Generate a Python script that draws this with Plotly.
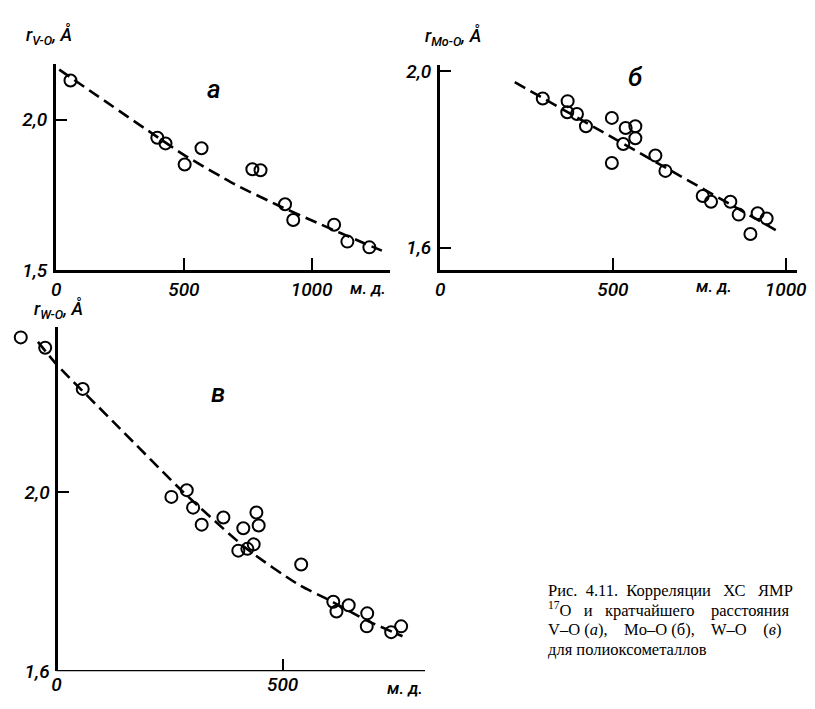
import plotly.graph_objects as go

# the page body adds an 8px margin on every side, so the figure is 16px
# smaller than the window; positions below are window pixels
OFF = 8
W, H = 815 - 2 * OFF, 709 - 2 * OFF

# ---------------- data ----------------
# panel а : V-O
a_shift = [56, 396, 428, 503, 569, 768, 800, 896, 928, 1088, 1140, 1226]
a_r = [2.130, 1.940, 1.921, 1.851, 1.905, 1.835, 1.832, 1.719, 1.667, 1.651, 1.595, 1.576]
a_fit_x = [12, 400, 500, 700, 870, 1020, 1210, 1275]
a_fit_y = [2.166, 1.940, 1.883, 1.785, 1.715, 1.658, 1.588, 1.565]

# panel б : Mo-O
b_shift = [297, 369, 368, 396, 422, 497, 497, 537, 565, 565, 530, 623, 652, 760, 784, 840, 864, 898, 919, 945]
b_r = [1.938, 1.932, 1.907, 1.903, 1.875, 1.894, 1.792, 1.871, 1.875, 1.848, 1.835, 1.809, 1.774,
       1.717, 1.704, 1.704, 1.675, 1.631, 1.678, 1.666]
b_fit_x = [216, 980]
b_fit_y = [1.975, 1.636]

# panel в : W-O
c_shift = [-79, -25, 58, 254, 288, 302, 321, 369, 413, 442, 447, 402, 422, 436, 541, 612, 619, 646,
           687, 686, 740, 762]
c_r = [2.345, 2.322, 2.230, 1.989, 2.004, 1.965, 1.927, 1.943, 1.919, 1.954, 1.925, 1.869, 1.873,
       1.883, 1.838, 1.755, 1.733, 1.747, 1.729, 1.700, 1.687, 1.700]
c_fit_x = [-41, 0, 140, 281, 422, 537, 610, 682, 765]
c_fit_y = [2.335, 2.285, 2.142, 1.999, 1.872, 1.792, 1.755, 1.715, 1.678]

a_xticks = [0, 500, 1000]
a_yticks = [1.5, 2.0]
b_xticks = [0, 500, 1000]
b_yticks = [1.6, 2.0]
c_xticks = [0, 500]
c_yticks = [1.6, 2.0]

caption_lines = [
    "Рис.  4.11.  Корреляции   ХС   ЯМР",
    "<sup>17</sup>O   и   кратчайшего    расстояния",
    "V–O (<i>а</i>),    Mo–O (б),    W–O    (<i>в</i>)",
    "для полиоксометаллов",
]

# ---------------- styling ----------------
TICKFONT = dict(family="Roboto, Liberation Sans, sans-serif",
                size=19, color="black", style="italic", weight=500)
LETTERFONT = dict(family="Roboto, Liberation Sans, sans-serif",
                  size=26, color="black", style="italic", weight=500)
CAPFONT = dict(family="Liberation Serif, Times New Roman, serif", size=16.5, color="black")


def px_x(p):
    return (p - OFF) / W


def px_y(p):
    return 1 - (p - OFF) / H


fig = go.Figure()

MARK = dict(symbol="circle-open", size=12, color="black", line=dict(width=2, color="black"))
DASH = dict(color="black", width=2.6, dash="12px,6px", shape="spline", smoothing=0.6)

for xs, ys, fx, fy, ax in [(a_shift, a_r, a_fit_x, a_fit_y, ""),
                           (b_shift, b_r, b_fit_x, b_fit_y, "2"),
                           (c_shift, c_r, c_fit_x, c_fit_y, "3")]:
    fig.add_trace(go.Scatter(x=fx, y=fy, mode="lines", line=DASH, xaxis="x" + ax, yaxis="y" + ax,
                             hoverinfo="skip", showlegend=False))
    fig.add_trace(go.Scatter(x=xs, y=ys, mode="markers", marker=MARK, xaxis="x" + ax, yaxis="y" + ax,
                             showlegend=False, cliponaxis=False))


def xaxis_style(dom, rng, ticks, showline=True):
    return dict(domain=dom, range=rng, tickvals=ticks, ticktext=[str(t) for t in ticks],
                ticks="inside", ticklen=12, tickwidth=2, tickcolor="black",
                showline=showline, linecolor="black", linewidth=2.5,
                showgrid=False, zeroline=False, tickfont=TICKFONT, ticklabelstandoff=0,
                ticklabeloverflow="allow")


def yaxis_style(dom, rng, ticks):
    return dict(domain=dom, range=rng, tickvals=ticks,
                ticktext=[f"{t:.1f}".replace(".", ",") for t in ticks],
                ticks="inside", ticklen=11, tickwidth=2, tickcolor="black",
                showline=True, linecolor="black", linewidth=3,
                showgrid=False, zeroline=False, tickfont=TICKFONT, ticklabelstandoff=2,
                ticklabeloverflow="allow")


# panel а
xa = xaxis_style([px_x(52), px_x(392)], [0, 1306], a_xticks)
xa.update(anchor="y")
ya = yaxis_style([px_y(271.7), px_y(60)], [1.5, 2.1856], a_yticks)
ya.update(anchor="x")
# panel б
xb = xaxis_style([px_x(443.3), px_x(806.7)], [0, 1032], b_xticks)
xb.update(anchor="y2")
yb = yaxis_style([px_y(271.7), px_y(61.7)], [1.549, 2.013], b_yticks)
yb.update(anchor="x2")
# panel в
xc = xaxis_style([px_x(9), px_x(428)], [-94, 815], c_xticks, showline=False)
xc.update(anchor="y3")
yc = yaxis_style([px_y(682.7), px_y(330)], [1.6, 2.368], c_yticks)
yc.update(anchor="free", position=px_x(52.3))

fig.update_layout(
    width=W, height=H, margin=dict(l=0, r=0, t=0, b=0),
    paper_bgcolor="white", plot_bgcolor="rgba(0,0,0,0)",
    xaxis=xa, yaxis=ya, xaxis2=xb, yaxis2=yb, xaxis3=xc, yaxis3=yc,
)

# x-axis line of panel в starts at the vertical axis
fig.add_shape(type="line", xref="x3", yref="y3", x0=0, x1=815, y0=1.6, y1=1.6,
              line=dict(color="black", width=2.5))

ann = []
# axis titles
TITLEFONT = dict(family="Roboto, Liberation Sans, sans-serif", size=18,
                 color="black", style="italic", weight=500)
for txt, x, y in [("r<sub>V-O</sub>, Å", 19, 31), ("r<sub>Mo-O</sub>, Å", 426, 32),
                  ("r<sub>W-O</sub>, Å", 27, 312)]:
    ann.append(dict(text=txt, x=px_x(x), y=px_y(y), xref="paper", yref="paper",
                    xanchor="left", yanchor="middle", showarrow=False, font=TITLEFONT))
# units
for x, y in [(370, 290), (722, 288), (408, 700)]:
    ann.append(dict(text="м. д.", x=px_x(x), y=px_y(y), xref="paper", yref="paper",
                    xanchor="center", yanchor="middle", showarrow=False,
                    font=dict(TICKFONT, size=17)))
# panel letters
for t, x, y in [("а", 213, 86), ("б", 642, 74), ("в", 217, 398)]:
    ann.append(dict(text=t, x=px_x(x), y=px_y(y), xref="paper", yref="paper",
                    xanchor="center", yanchor="middle", showarrow=False, font=LETTERFONT))
# caption
for i, line in enumerate(caption_lines):
    ann.append(dict(text=line, x=px_x(551), y=px_y(600 + 20 * i), xref="paper", yref="paper",
                    xanchor="left", yanchor="middle", showarrow=False, font=CAPFONT))
fig.update_layout(annotations=ann)

fig.write_html("out.html")
